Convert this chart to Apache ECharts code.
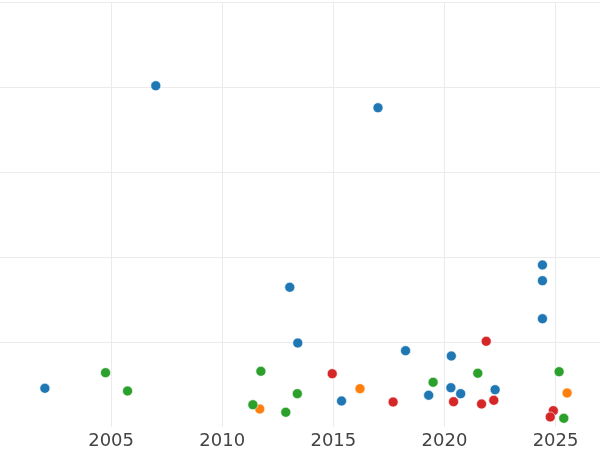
<!DOCTYPE html>
<html>
<head>
<meta charset="utf-8">
<script src="https://cdn.jsdelivr.net/npm/echarts@6/dist/echarts.min.js"></script>
<style>html,body{margin:0;padding:0;background:#fff}#c{width:600px;height:450px}</style>
</head>
<body>
<div id="c"></div>
<script>
// Data: [year, value]
const blueX = [2002.02, 2007.01, 2013.04, 2013.40, 2015.37, 2017.01, 2018.25, 2019.29, 2020.31, 2020.29, 2020.73, 2022.28, 2024.41, 2024.41, 2024.41];
const blueY = [0.455, 4.015, 1.644, 0.988, 0.306, 3.756, 0.898, 0.373, 0.835, 0.462, 0.392, 0.439, 1.906, 1.721, 1.274];
const orangeX = [2011.69, 2016.20, 2025.52];
const orangeY = [0.212, 0.451, 0.400];
const greenX = [2004.75, 2005.74, 2011.74, 2011.38, 2012.86, 2013.38, 2019.49, 2021.50, 2025.16, 2025.37];
const greenY = [0.639, 0.424, 0.655, 0.262, 0.173, 0.392, 0.526, 0.632, 0.651, 0.102];
const redX = [2014.95, 2017.69, 2020.41, 2021.88, 2021.67, 2022.22, 2024.90, 2024.76];
const redY = [0.627, 0.294, 0.298, 1.008, 0.271, 0.314, 0.192, 0.118];

const xTicks = [2005, 2010, 2015, 2020, 2025];

function pts(xs, ys) { return xs.map((x, i) => [x, ys[i]]); }

const chart = echarts.init(document.getElementById('c'), null, {renderer: 'canvas'});
const mk = (name, color, xs, ys) => ({
  name, type: 'scatter', data: pts(xs, ys), symbolSize: 10,
  itemStyle: {color, opacity: 1, borderColor: '#ffffff', borderWidth: 0.6},
  emphasis: {disabled: true}
});
chart.setOption({
  animation: false,
  backgroundColor: '#ffffff',
  grid: {left: -1, right: -2, top: 2, bottom: 23, containLabel: false},
  xAxis: {
    type: 'value', min: 2000, max: 2027, interval: 5,
    axisLine: {show: false}, axisTick: {show: false},
    axisLabel: {
      showMinLabel: false, showMaxLabel: false, margin: 5,
      fontFamily: 'DejaVu Sans', fontSize: 18, color: '#444444',
      formatter: v => xTicks.includes(v) ? String(v) : ''
    },
    splitLine: {show: true, showMinLine: false, showMaxLine: false, lineStyle: {color: '#ebebeb', width: 1}}
  },
  yAxis: {
    type: 'value', min: 0, max: 5, interval: 1,
    axisLine: {show: false}, axisTick: {show: false}, axisLabel: {show: false},
    splitLine: {show: true, showMinLine: false, lineStyle: {color: '#ebebeb', width: 1}}
  },
  series: [
    mk('blue', '#1f77b4', blueX, blueY),
    mk('orange', '#ff7f0e', orangeX, orangeY),
    mk('green', '#2ca02c', greenX, greenY),
    mk('red', '#d62728', redX, redY)
  ]
});
</script>
</body>
</html>
